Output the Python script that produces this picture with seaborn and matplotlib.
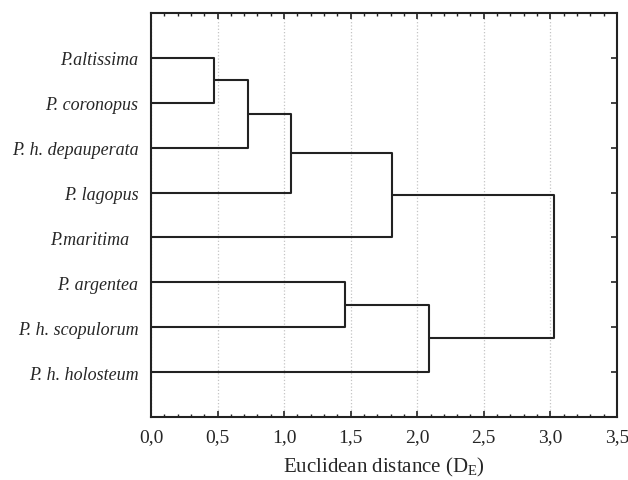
import numpy as np
import pandas as pd

import matplotlib
matplotlib.use("Agg")
import matplotlib.pyplot as plt
from matplotlib.ticker import MultipleLocator, FuncFormatter
import seaborn as sns

# leaves, top to bottom
leaf_labels = ["P.altissima", "P. coronopus", "P. h. depauperata", "P. lagopus",
               "P.maritima  ", "P. argentea", "P. h. scopulorum", "P. h. holosteum"]

# linkage: clusters 0..7 are leaves, merge k makes cluster 8+k
merge_a = [0, 8, 9, 10, 5, 12, 11]
merge_b = [1, 2, 3, 4, 6, 7, 13]
merge_dist = [0.47, 0.73, 1.05, 1.81, 1.46, 2.09, 3.03]

x_ticks = [0.0, 0.5, 1.0, 1.5, 2.0, 2.5, 3.0, 3.5]


def dendrogram_segments(n_leaves, a_list, b_list, d_list):
    pos = {i: (0.0, i + 1.0) for i in range(n_leaves)}
    rows = []
    for k, (a, b, d) in enumerate(zip(a_list, b_list, d_list)):
        xa, ya = pos[a]
        xb, yb = pos[b]
        for x, y in [(xa, ya), (d, ya), (d, yb), (xb, yb)]:
            rows.append({"seg": k, "x": x, "y": y})
        pos[n_leaves + k] = (d, (ya + yb) / 2.0)
    return pd.DataFrame(rows)


sns.set_style("white")
plt.rcParams["font.family"] = ["Liberation Serif", "DejaVu Serif"]
plt.rcParams["mathtext.default"] = "regular"

df_seg = dendrogram_segments(len(leaf_labels), merge_a, merge_b, merge_dist)

fig = plt.figure(figsize=(6.28, 4.81), dpi=100)
ax = fig.add_axes([0.2404, 0.131, 0.742, 0.840])

sns.lineplot(data=df_seg, x="x", y="y", units="seg", estimator=None, sort=False,
             color="#222222", linewidth=1.5, ax=ax, legend=False)

ax.set_xlim(0, 3.5)
ax.set_ylim(len(leaf_labels) + 1, 0)

ax.set_xticks(x_ticks)
ax.xaxis.set_minor_locator(MultipleLocator(0.1))
ax.xaxis.set_major_formatter(FuncFormatter(lambda v, p: f"{v:.1f}".replace(".", ",")))
ax.set_yticks(np.arange(1, len(leaf_labels) + 1))
ax.set_yticklabels(leaf_labels, fontstyle="italic", fontsize=13)

ax.tick_params(axis="x", which="major", direction="in", length=4, width=1.2,
               top=True, bottom=True, labelsize=14, pad=8, color="#222222")
ax.tick_params(axis="x", which="minor", direction="in", length=2.5, width=1,
               top=True, bottom=True, color="#222222")
ax.tick_params(axis="y", which="major", direction="in", length=4, width=1.2,
               left=True, right=True, pad=9, color="#222222")

ax.grid(axis="x", which="major", linestyle=":", color="#c4c4c4", linewidth=0.9)
ax.grid(axis="y", visible=False)
ax.set_axisbelow(True)

for spine in ax.spines.values():
    spine.set_visible(True)
    spine.set_color("#222222")
    spine.set_linewidth(1.5)

ax.set_xlabel("Euclidean distance (D$_E$)", fontsize=15, labelpad=7)
ax.set_ylabel("")

fig.savefig("out.png", dpi=100)
plt.close(fig)
